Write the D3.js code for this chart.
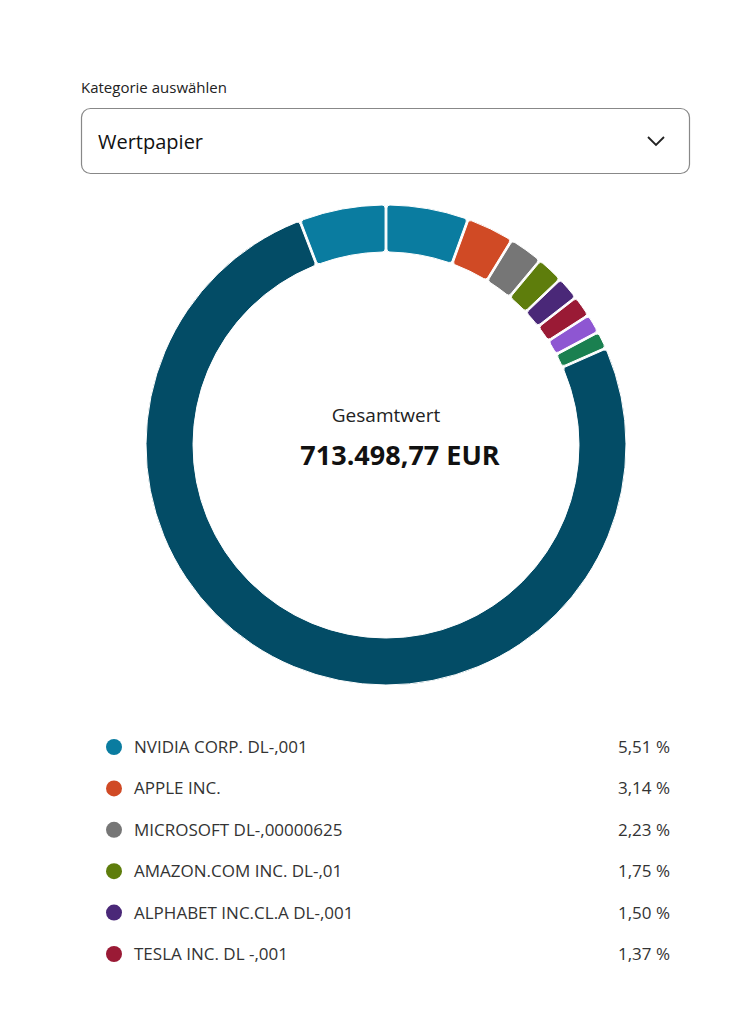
<!DOCTYPE html>
<html><head><meta charset="utf-8">
<script src="https://cdn.jsdelivr.net/npm/d3@7"></script>
<style>body{margin:0;background:#fff;font-family:"Open Sans",Roboto,sans-serif;}</style>
</head><body>
<svg id="c" width="750" height="1013"></svg>
<script>
const names = ["NVIDIA CORP. DL-,001","APPLE INC.","MICROSOFT DL-,00000625","AMAZON.COM INC. DL-,01","ALPHABET INC.CL.A DL-,001","TESLA INC. DL -,001","Position 7","Position 8","Sonstige","Position 10"];
const values = [5.51,3.14,2.23,1.75,1.50,1.37,1.20,1.10,76.40,5.80];
const colors = ["#0a7ca0","#d04a25","#767676","#5e7d0c","#4a2878","#9a1a35","#8e56d2","#1a8050","#034c66","#0a7ca0"];
const legendCount = 6;
const total = "713.498,77 EUR";

const svg = d3.select("#c");
svg.append("text").attr("x",81).attr("y",93).attr("font-size",15).attr("fill","#222").text("Kategorie auswählen");
svg.append("rect").attr("x",81.5).attr("y",108.5).attr("width",608).attr("height",65).attr("rx",9).attr("fill","#fff").attr("stroke","#888").attr("stroke-width",1.2);
svg.append("text").attr("x",98).attr("y",149).attr("font-size",20).attr("fill","#111").text("Wertpapier");
svg.append("path").attr("d","M648,137 l8,8 l8,-8").attr("fill","none").attr("stroke","#222").attr("stroke-width",1.8);

const cx=386, cy=445;
const pie = d3.pie().sort(null).value(d=>d).padAngle(0.006);
const arc = d3.arc().innerRadius(193).outerRadius(240).cornerRadius(3);
const g = svg.append("g").attr("transform",`translate(${cx},${cy})`);
g.selectAll("path").data(pie(values)).join("path").attr("d",arc).attr("fill",(d,i)=>colors[i]).attr("stroke","#fff").attr("stroke-width",1);

svg.append("text").attr("x",cx).attr("y",422).attr("text-anchor","middle").attr("font-size",19).attr("fill","#222").text("Gesamtwert");
svg.append("text").attr("x",cx+14).attr("y",465).attr("text-anchor","middle").attr("font-size",27).attr("font-weight","bold").attr("fill","#111").text(total);

const fmt = v => v.toFixed(2).replace(".",",")+" %";
const y = d3.scalePoint().domain(d3.range(legendCount)).range([747,954]);
const lg = svg.append("g").selectAll("g").data(d3.range(legendCount)).join("g").attr("transform",i=>`translate(0,${y(i)})`);
lg.append("circle").attr("cx",114).attr("cy",0).attr("r",8).attr("fill",i=>colors[i]);
lg.append("text").attr("x",134).attr("y",6).attr("font-size",17).attr("fill","#333").text(i=>names[i]);
lg.append("text").attr("x",670).attr("y",6).attr("text-anchor","end").attr("font-size",17).attr("fill","#333").text(i=>fmt(values[i]));
</script>
</body></html>
